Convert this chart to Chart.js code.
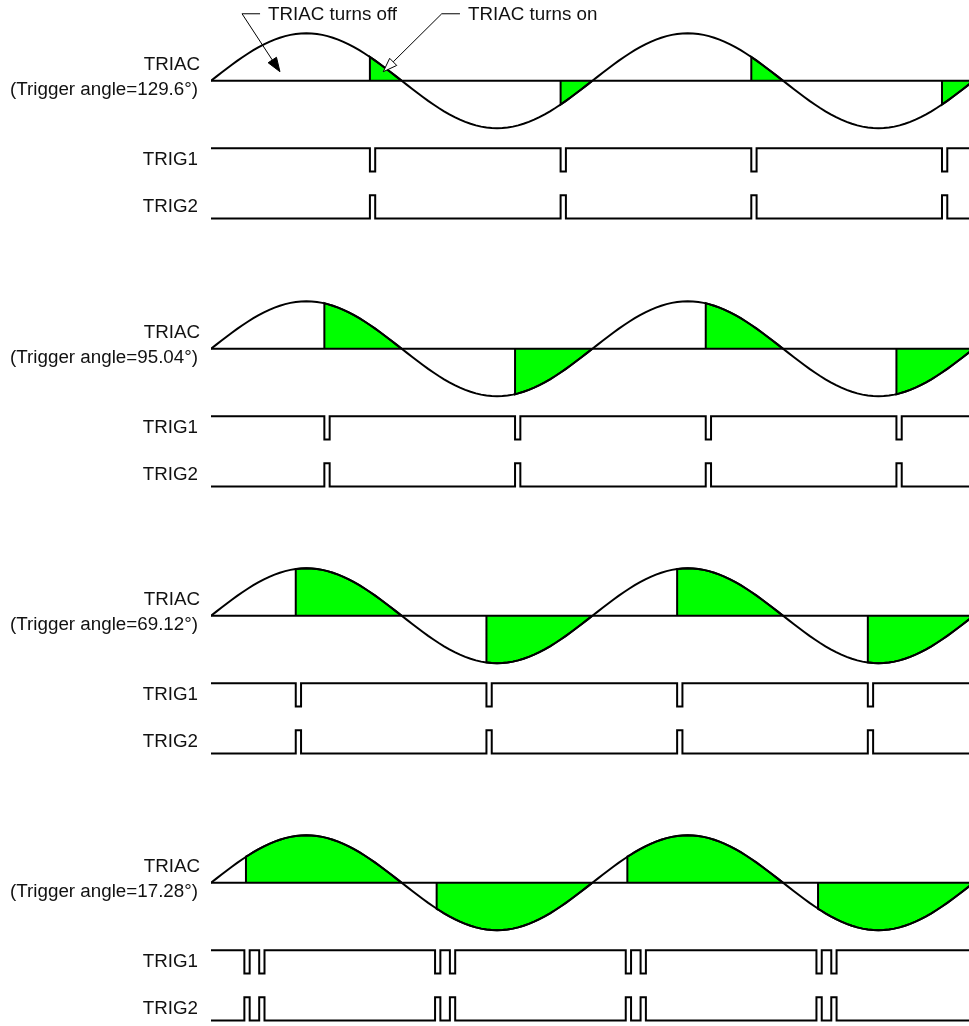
<!DOCTYPE html>
<html>
<head>
<meta charset="utf-8">
<script src="https://cdn.jsdelivr.net/npm/chart.js@4.4.0/dist/chart.umd.min.js"></script>
<style>
body{margin:0;background:#fff;overflow:hidden;width:969px;height:1026px;}
canvas{position:absolute;left:0;}
</style>
</head>
<body>
<canvas id="p0" width="969" height="228" style="top:0px"></canvas>
<canvas id="p1" width="969" height="228" style="top:268px"></canvas>
<canvas id="p2" width="969" height="228" style="top:535px"></canvas>
<canvas id="p3" width="969" height="228" style="top:802px"></canvas>
<script>
// one half cycle of the mains voltage, a sample every 5 degrees (peak = 1)
var waveStep = 5;
var halfWave = [0, 0.087, 0.174, 0.259, 0.342, 0.423, 0.5, 0.574, 0.643, 0.707, 0.766, 0.819, 0.866, 0.906, 0.94, 0.966, 0.985, 0.996, 1,
                0.996, 0.985, 0.966, 0.94, 0.906, 0.866, 0.819, 0.766, 0.707, 0.643, 0.574, 0.5, 0.423, 0.342, 0.259, 0.174, 0.087, 0];
var halfCycles = 4;

// one entry per panel
var angleLabels = ["129.6°", "95.04°", "69.12°", "17.28°"];
var fireAngles = [150, 107, 80, 33];          // where the triac starts conducting in each half cycle
var fireLevels = [0.5, 0.96, 0.98, 0.55];     // wave height at that moment
var pulseStarts = [[150], [107], [80], [31.5, 45.5]];
var pulseWidth = 5;

// layout (scale units, 1 = wave peak)
var X_MAX = 715.5;
var Y_MAX = 1.7, Y_MIN = -3.1;
var TRIG1_HI = -1.42, TRIG1_LO = -1.91;
var TRIG2_HI = -2.41, TRIG2_LO = -2.9;
var FONT = '18.8px "Liberation Sans", Arial, sans-serif';

var getWave = function(){
    var pts = [];
    for(var k=0;k<halfCycles;k++){
        var sign = k%2==0 ? 1 : -1;
        for(var i=(k==0?0:1);i<halfWave.length;i++){
            pts.push({x:k*180+i*waveStep, y:sign*halfWave[i]});
        }
    }
    return pts;
};

var getConducting = function(p,k){
    var sign = k%2==0 ? 1 : -1;
    var a0 = k*180+fireAngles[p];
    var pts = [{x:a0,y:0},{x:a0,y:sign*fireLevels[p]}];
    for(var i=0;i<halfWave.length;i++){
        if(i*waveStep > fireAngles[p]) pts.push({x:k*180+i*waveStep, y:sign*halfWave[i]});
    }
    return pts;
};

var getPulses = function(p,rest,active){
    var pts = [{x:0,y:rest}];
    for(var k=0;k<halfCycles;k++){
        for(var j=0;j<pulseStarts[p].length;j++){
            var t = k*180+pulseStarts[p][j];
            pts.push({x:t,y:rest},{x:t,y:active},{x:t+pulseWidth,y:active},{x:t+pulseWidth,y:rest});
        }
    }
    pts.push({x:X_MAX,y:rest});
    return pts;
};

var labelPlugin = {
    id:'sideLabels',
    afterDraw:function(chart,args,opts){
        var ctx = chart.ctx, y = chart.scales.y, right = chart.chartArea.left-11;
        ctx.save();
        ctx.font = FONT;
        ctx.fillStyle = '#111';
        ctx.textAlign = 'right';
        ctx.textBaseline = 'middle';
        ctx.fillText('TRIAC', right, y.getPixelForValue(0.34));
        ctx.fillText('(Trigger angle=' + opts.angle + ')', right-2, y.getPixelForValue(-0.19));
        ctx.fillText('TRIG1', right-2, y.getPixelForValue((TRIG1_HI+TRIG1_LO)/2));
        ctx.fillText('TRIG2', right-2, y.getPixelForValue((TRIG2_HI+TRIG2_LO)/2));
        ctx.restore();
    }
};

var arrowHead = function(ctx,x0,y0,x1,y1,fill){
    var ang = Math.atan2(y1-y0,x1-x0), len = 14, half = 5;
    var bx = x1-Math.cos(ang)*len, by = y1-Math.sin(ang)*len;
    ctx.beginPath();
    ctx.moveTo(x0,y0);
    ctx.lineTo(bx,by);
    ctx.stroke();
    ctx.beginPath();
    ctx.moveTo(x1,y1);
    ctx.lineTo(bx+Math.sin(ang)*half, by-Math.cos(ang)*half);
    ctx.lineTo(bx-Math.sin(ang)*half, by+Math.cos(ang)*half);
    ctx.closePath();
    ctx.fillStyle = fill;
    ctx.fill();
    ctx.lineWidth = 1;
    ctx.stroke();
};

var notePlugin = {
    id:'notes',
    afterDraw:function(chart,args,opts){
        if(!opts.show) return;
        var ctx = chart.ctx, x = chart.scales.x, y = chart.scales.y;
        var notes = [
            {text:'TRIAC turns off', corner:29.3, end:46.3, tx:53.8, tip:[65.1,0.19], fill:'#000'},
            {text:'TRIAC turns on', corner:217.8, end:235, tx:242.6, tip:[162.6,0.19], fill:'#fff'}
        ];
        ctx.save();
        ctx.strokeStyle = '#000';
        ctx.font = FONT;
        ctx.textBaseline = 'middle';
        notes.forEach(function(n){
            var cy = y.getPixelForValue(1.41);
            ctx.lineWidth = 1;
            ctx.beginPath();
            ctx.moveTo(x.getPixelForValue(n.corner), cy);
            ctx.lineTo(x.getPixelForValue(n.end), cy);
            ctx.stroke();
            arrowHead(ctx, x.getPixelForValue(n.corner), cy, x.getPixelForValue(n.tip[0]), y.getPixelForValue(n.tip[1]), n.fill);
            ctx.fillStyle = '#111';
            ctx.textAlign = 'left';
            ctx.fillText(n.text, x.getPixelForValue(n.tx), y.getPixelForValue(1.38));
        });
        ctx.restore();
    }
};

var makePanel = function(p){
    var datasets = [
        {data:getWave(), borderColor:'#000', borderWidth:2, order:0},
        {data:[{x:0,y:0},{x:X_MAX,y:0}], borderColor:'#000', borderWidth:2, order:0},
        {data:getPulses(p,TRIG1_HI,TRIG1_LO), borderColor:'#000', borderWidth:2, order:0},
        {data:getPulses(p,TRIG2_LO,TRIG2_HI), borderColor:'#000', borderWidth:2, order:0}
    ];
    for(var k=0;k<halfCycles;k++){
        datasets.push({data:getConducting(p,k), borderColor:'#000', borderWidth:2,
            backgroundColor:'#00ff00', fill:'origin', order:2});
    }
    var ctx = document.getElementById('p'+p).getContext('2d');
    new Chart(ctx,{
        type:'line',
        data:{datasets:datasets},
        options:{
            responsive:false,
            animation:false,
            devicePixelRatio:1,
            layout:{padding:{left:211,right:0,top:0,bottom:0}},
            elements:{point:{radius:0}, line:{tension:0, borderJoinStyle:'miter', borderCapStyle:'butt'}},
            scales:{
                x:{type:'linear', min:0, max:X_MAX, display:false},
                y:{type:'linear', min:Y_MIN, max:Y_MAX, display:false}
            },
            plugins:{
                legend:{display:false},
                tooltip:{enabled:false},
                sideLabels:{angle:angleLabels[p]},
                notes:{show:p==0}
            }
        },
        plugins:[labelPlugin,notePlugin]
    });
};

for(var p=0;p<4;p++) makePanel(p);
</script>
</body>
</html>
